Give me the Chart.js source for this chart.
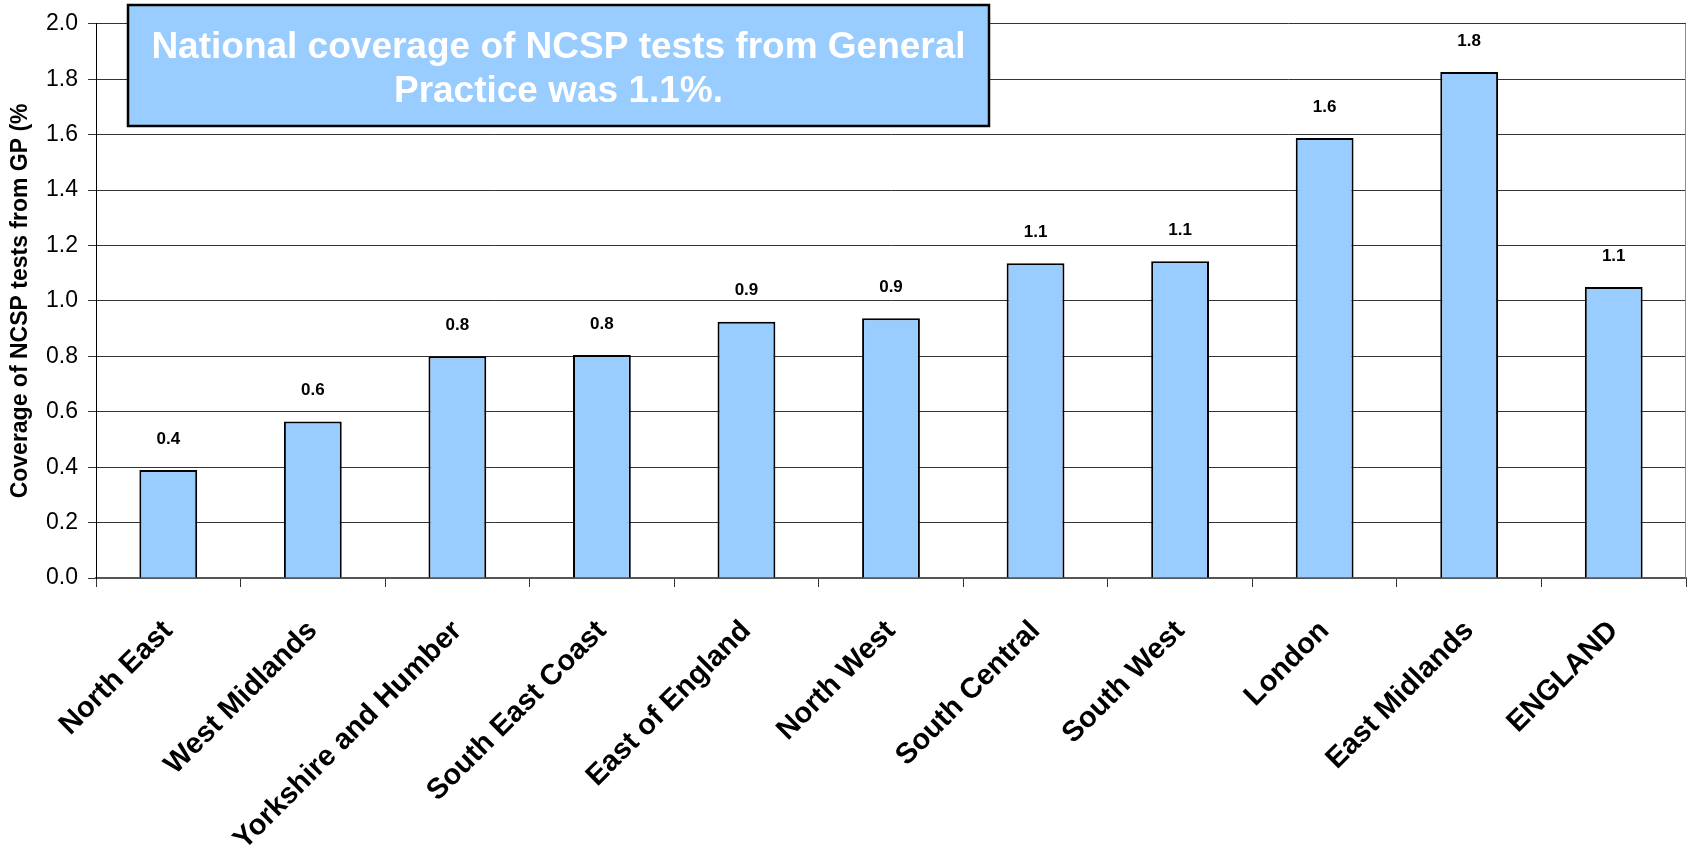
<!DOCTYPE html>
<html>
<head>
<meta charset="utf-8">
<script src="https://cdn.jsdelivr.net/npm/chart.js@4/dist/chart.umd.min.js"></script>
<style>
html,body{margin:0;padding:0;background:#fff;}
#wrap{width:1691px;height:848px;position:relative;}
</style>
</head>
<body>
<div id="wrap"><canvas id="c" width="1691" height="848"></canvas></div>
<script>
const categories = ['North East','West Midlands','Yorkshire and Humber','South East Coast','East of England','North West','South Central','South West','London','East Midlands','ENGLAND'];
const coverage = [0.39, 0.565, 0.80, 0.805, 0.925, 0.937, 1.136, 1.143, 1.588, 1.826, 1.05];
const valueLabels = ['0.4','0.6','0.8','0.8','0.9','0.9','1.1','1.1','1.6','1.8','1.1'];
const yAxisTitle = 'Coverage of NCSP tests from GP (%';
const noteLines = ['National coverage of NCSP tests from General', 'Practice was 1.1%.'];
const yMin = 0, yMax = 2.0, yStep = 0.2;

const FONT = '"Liberation Sans", Arial, Helvetica, sans-serif';

const valueLabelPlugin = {
  id: 'valueLabels',
  afterDatasetsDraw(chart) {
    const ctx = chart.ctx;
    const meta = chart.getDatasetMeta(0);
    ctx.save();
    ctx.font = 'bold 17px ' + FONT;
    ctx.fillStyle = '#000';
    ctx.textAlign = 'center';
    ctx.textBaseline = 'middle';
    meta.data.forEach((bar, i) => {
      ctx.fillText(valueLabels[i], bar.x, bar.y - 31);
    });
    ctx.restore();
  }
};

const frameAndNotePlugin = {
  id: 'frameAndNote',
  afterDraw(chart) {
    const ctx = chart.ctx;
    const a = chart.chartArea;
    ctx.save();
    // right border of plot area
    ctx.strokeStyle = '#8c8c8c';
    ctx.lineWidth = 1;
    ctx.beginPath();
    ctx.moveTo(a.right - 0.5, a.top);
    ctx.lineTo(a.right - 0.5, a.bottom);
    ctx.stroke();
    // note box
    const bx = 128, by = 5, bw = 861, bh = 121;
    ctx.fillStyle = '#99CCFF';
    ctx.fillRect(bx, by, bw, bh);
    ctx.strokeStyle = '#000';
    ctx.lineWidth = 2.5;
    ctx.strokeRect(bx, by, bw, bh);
    ctx.fillStyle = '#ffffff';
    ctx.font = 'bold 37px ' + FONT;
    ctx.textAlign = 'center';
    ctx.textBaseline = 'middle';
    ctx.fillText(noteLines[0], bx + bw / 2, 48);
    ctx.fillText(noteLines[1], bx + bw / 2, 92);
    ctx.restore();
  }
};

new Chart(document.getElementById('c'), {
  type: 'bar',
  data: {
    labels: categories,
    datasets: [{
      data: coverage,
      backgroundColor: '#99CCFF',
      borderColor: '#000000',
      borderWidth: 2,
      categoryPercentage: 1.0,
      barPercentage: 0.4
    }]
  },
  options: {
    responsive: false,
    animation: false,
    devicePixelRatio: 1,
    layout: { padding: { top: 22, right: 5, left: 0, bottom: 0 } },
    plugins: {
      legend: { display: false },
      tooltip: { enabled: false },
      title: { display: false }
    },
    scales: {
      x: {
        offset: true,
        grid: {
          display: true,
          drawOnChartArea: false,
          drawTicks: true,
          tickLength: 9,
          offset: true,
          color: '#333333',
          lineWidth: 1
        },
        border: { display: true, color: '#555555', width: 2 },
        ticks: {
          autoSkip: false,
          maxRotation: 45,
          minRotation: 45,
          padding: 27,
          color: '#000',
          font: { family: FONT, size: 29, weight: 'bold' }
        },
        afterFit(scale) { scale.height = 270; }
      },
      y: {
        min: yMin,
        max: yMax,
        ticks: {
          stepSize: yStep,
          padding: 10,
          color: '#000',
          font: { family: FONT, size: 23 },
          callback: (v) => Number(v).toFixed(1)
        },
        grid: {
          color: '#333333',
          lineWidth: 1,
          tickLength: 8,
          drawTicks: true
        },
        border: { display: true, color: '#000', width: 1 },
        title: {
          display: true,
          text: yAxisTitle,
          color: '#000',
          padding: { top: 7, bottom: 0 },
          font: { family: FONT, size: 23, weight: 'bold' }
        },
        afterFit(scale) { scale.width = 96; }
      }
    }
  },
  plugins: [valueLabelPlugin, frameAndNotePlugin]
});
</script>
</body>
</html>
